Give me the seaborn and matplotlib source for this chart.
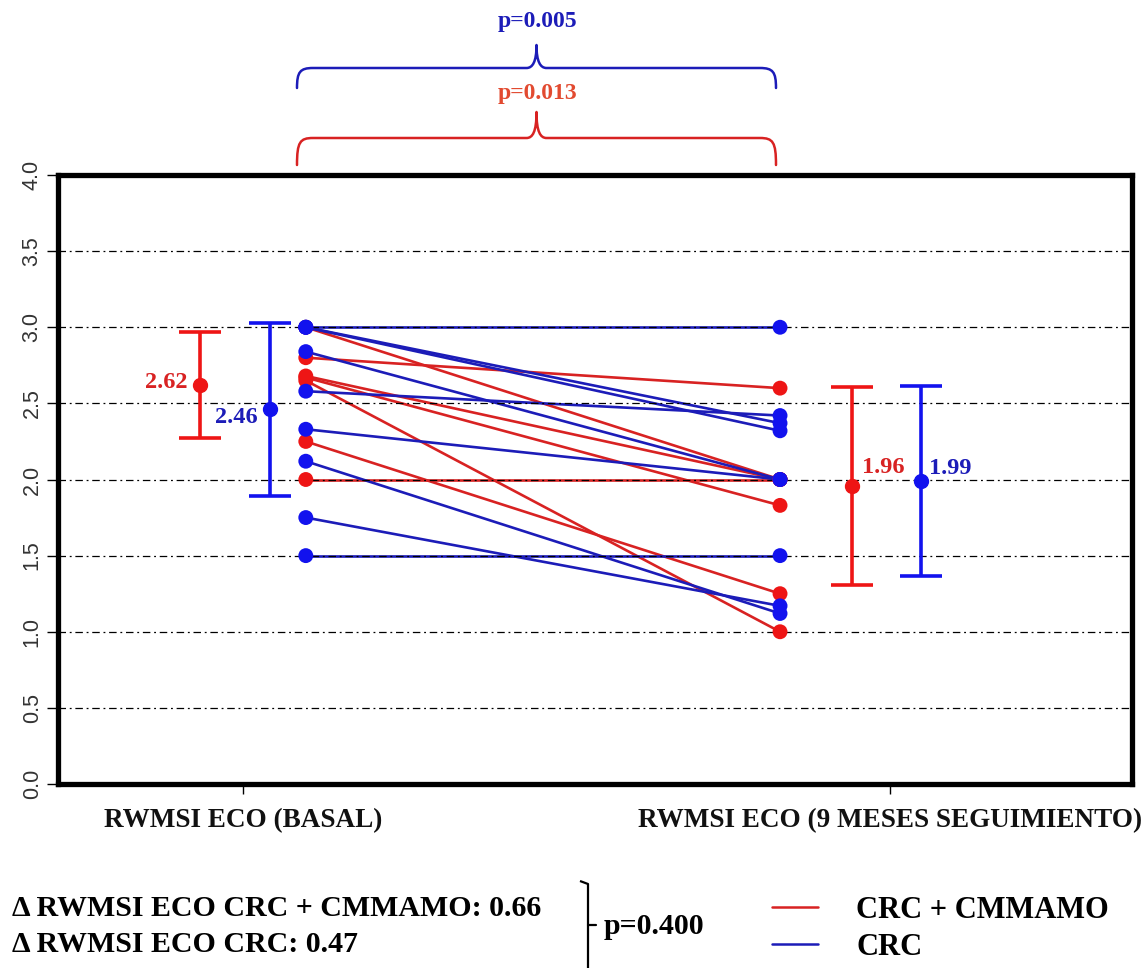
import numpy as np
import pandas as pd
import matplotlib
matplotlib.use("Agg")
import matplotlib.pyplot as plt
import seaborn as sns
from matplotlib.path import Path
from matplotlib.patches import PathPatch
from matplotlib.lines import Line2D

# ---------------- data ----------------
time_labels = ["RWMSI ECO (BASAL)", "RWMSI ECO (9 MESES SEGUIMIENTO)"]
groups = ["CRC + CMMAMO", "CRC"]

red_basal = [3.00, 2.80, 2.68, 2.67, 2.65, 2.25, 2.00]
red_follow = [2.00, 2.60, 2.00, 1.83, 1.00, 1.25, 2.00]
blue_basal = [3.00, 3.00, 3.00, 2.84, 2.58, 2.33, 2.12, 1.75, 1.50]
blue_follow = [3.00, 2.37, 2.32, 2.00, 2.42, 2.00, 1.12, 1.17, 1.50]

red_means = [2.62, 1.96]
red_sd = [0.35, 0.65]
blue_means = [2.46, 1.99]
blue_sd = [0.57, 0.625]

p_red = "p=0.013"
p_blue = "p=0.005"
p_delta = "p=0.400"
delta_lines = ["\u0394 RWMSI ECO CRC + CMMAMO: 0.66", "\u0394 RWMSI ECO CRC: 0.47"]

yticks = [0.0, 0.5, 1.0, 1.5, 2.0, 2.5, 3.0, 3.5, 4.0]

# ---------------- style ----------------
RED_L = "#D82222"
BLUE_L = "#1C1CB8"
RED_P = "#EE1515"
BLUE_P = "#1212EE"
SERIF = "Liberation Serif"

sns.set_theme(style="white")
plt.rcParams["font.family"] = ["Liberation Sans", "DejaVu Sans"]

# positions on the x axis
x_tick_pos = [1.0, 2.0]
x_pts = [1.097, 1.830]
x_err = {"red": [0.934, 1.941], "blue": [1.042, 2.048]}

rows = []
for i, (a, b) in enumerate(zip(red_basal, red_follow)):
    rows.append(dict(subj=f"r{i}", group=groups[0], x=x_pts[0], y=a))
    rows.append(dict(subj=f"r{i}", group=groups[0], x=x_pts[1], y=b))
for i, (a, b) in enumerate(zip(blue_basal, blue_follow)):
    rows.append(dict(subj=f"b{i}", group=groups[1], x=x_pts[0], y=a))
    rows.append(dict(subj=f"b{i}", group=groups[1], x=x_pts[1], y=b))
df = pd.DataFrame(rows)

W, H = 1144, 968
fig = plt.figure(figsize=(W / 100, H / 100), dpi=100)
fig.patch.set_facecolor("white")
L, R, T, B = 58, 1132, 175, 784
ax = fig.add_axes([L / W, 1 - B / H, (R - L) / W, (B - T) / H])

ax.set_xlim(0.714, 2.374)
ax.set_ylim(0, 4)

# grid
for yv in yticks[1:-1]:
    ax.axhline(yv, color="black", lw=0.9, ls=(0, (6, 3, 1.5, 3)), zorder=2.5)

# connecting lines
sns.lineplot(data=df, x="x", y="y", hue="group", units="subj", estimator=None,
             palette={groups[0]: RED_L, groups[1]: BLUE_L}, lw=1.9,
             legend=False, ax=ax, zorder=2, sort=False)
# points
sns.scatterplot(data=df, x="x", y="y", hue="group",
                palette={groups[0]: RED_P, groups[1]: BLUE_P}, s=115,
                edgecolor="none", legend=False, ax=ax, zorder=4)

# error bars with means
for key, means, sds, col in [("red", red_means, red_sd, RED_P),
                             ("blue", blue_means, blue_sd, BLUE_P)]:
    ax.errorbar(x_err[key], means, yerr=sds, fmt="o", color=col, ms=10,
                elinewidth=2.6, capsize=15, capthick=2.6, zorder=5)

txt_kw = dict(family=SERIF, fontweight="bold", fontsize=17.5)
ax.annotate(f"{red_means[0]:.2f}", (x_err["red"][0], red_means[0]), xytext=(-9, 2),
            textcoords="offset points", ha="right", va="center", color=RED_L, **txt_kw)
ax.annotate(f"{blue_means[0]:.2f}", (x_err["blue"][0], blue_means[0]), xytext=(-9, -6),
            textcoords="offset points", ha="right", va="center", color=BLUE_L, **txt_kw)
ax.annotate(f"{red_means[1]:.2f}", (x_err["red"][1], red_means[1]), xytext=(7, 13),
            textcoords="offset points", ha="left", va="center", color=RED_L, **txt_kw)
ax.annotate(f"{blue_means[1]:.2f}", (x_err["blue"][1], blue_means[1]), xytext=(6, 9),
            textcoords="offset points", ha="left", va="center", color=BLUE_L, **txt_kw)

# axes styling
ax.set_yticks(yticks)
ax.set_yticklabels([f"{v:.1f}" for v in yticks], rotation=90, va="center",
                   fontsize=15.5, color="#333333")
ax.set_xticks(x_tick_pos)
ax.set_xticklabels(time_labels, family=SERIF, fontweight="bold", fontsize=19.5,
                   color="#111111")
ax.tick_params(axis="y", direction="out", length=8, width=1, color="black", pad=3, left=True)
ax.tick_params(axis="x", direction="out", length=7, width=1, color="black", pad=10, bottom=True)
ax.set_xlabel("")
ax.set_ylabel("")
for s in ax.spines.values():
    s.set_linewidth(3.8)
    s.set_color("black")
    s.set_visible(True)

# ---------------- overlay for annotations (pixel coords) ----------------
ov = fig.add_axes([0, 0, 1, 1], zorder=10)
ov.set_xlim(0, W)
ov.set_ylim(H, 0)
ov.axis("off")


def brace(x0, x1, yend, yflat, ytip, color):
    xm = (x0 + x1) / 2
    r = 16
    verts = [(x0, yend),
             (x0, yflat + 4), (x0 + 3, yflat), (x0 + r, yflat),
             (xm - 10, yflat),
             (xm - 4, yflat), (xm, yflat - 6), (xm, ytip),
             (xm, yflat - 6), (xm + 4, yflat), (xm + 10, yflat),
             (x1 - r, yflat),
             (x1 - 3, yflat), (x1, yflat + 4), (x1, yend)]
    codes = [Path.MOVETO, Path.CURVE4, Path.CURVE4, Path.CURVE4, Path.LINETO,
             Path.CURVE4, Path.CURVE4, Path.CURVE4, Path.CURVE4, Path.CURVE4,
             Path.CURVE4, Path.LINETO, Path.CURVE4, Path.CURVE4, Path.CURVE4]
    ov.add_patch(PathPatch(Path(verts, codes), fill=False, edgecolor=color, lw=1.8,
                           capstyle="round", joinstyle="round"))


brace(297, 776, 165, 138, 112, RED_L)
brace(297, 776, 88, 68, 45, BLUE_L)
ov.text(537, 93, p_red, ha="center", va="center", color="#E24A30", family=SERIF,
        fontweight="bold", fontsize=17)
ov.text(537, 22, p_blue, ha="center", va="center", color=BLUE_L, family=SERIF,
        fontweight="bold", fontsize=17)

# bottom delta texts and bracket
bkw = dict(family=SERIF, fontweight="bold", fontsize=21.5, color="black", va="center")
ov.text(12, 909, delta_lines[0], ha="left", **bkw)
ov.text(12, 944, delta_lines[1], ha="left", **bkw)
ov.plot([580, 588, 588], [881, 884, 968], color="black", lw=1.6, solid_capstyle="butt")
ov.plot([588, 596], [925, 925], color="black", lw=1.6)
ov.text(604, 926, p_delta, ha="left", **bkw)

# legend
handles = [Line2D([], [], color=RED_L, lw=1.8), Line2D([], [], color=BLUE_L, lw=1.8)]
leg = fig.legend(handles, groups, loc="center left", bbox_to_anchor=(772 / W, 1 - 929 / H),
                 frameon=False, handlelength=1.5, handletextpad=1.25, labelspacing=0.25,
                 borderpad=0, borderaxespad=0, labelcolor="black",
                 prop=dict(family=SERIF, weight="bold", size=22))

fig.savefig("out.png", dpi=100, facecolor="white")
